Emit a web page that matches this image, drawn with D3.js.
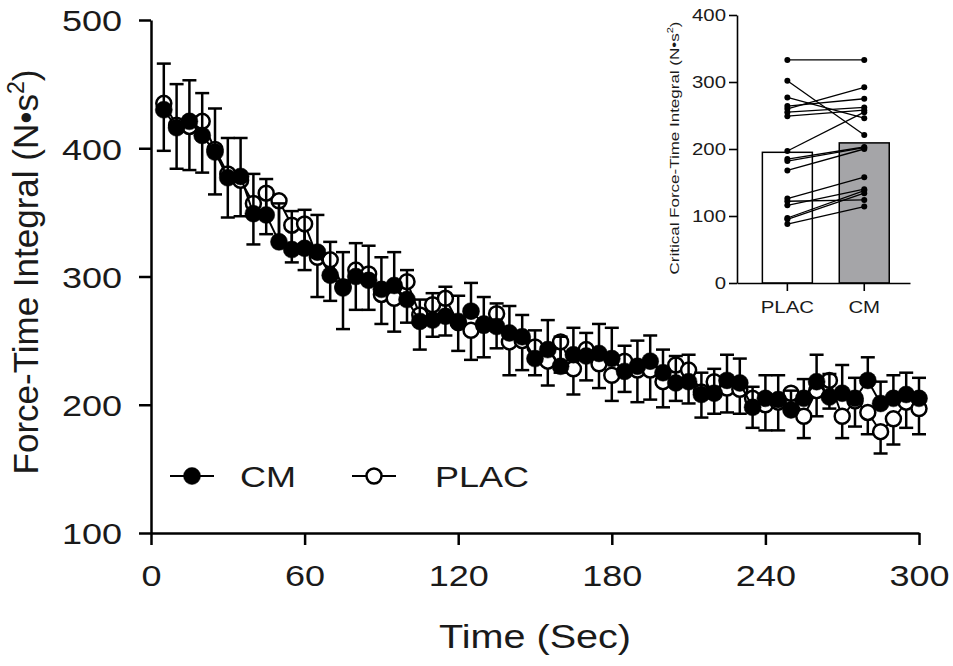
<!DOCTYPE html>
<html>
<head>
<meta charset="utf-8">
<script src="https://cdn.jsdelivr.net/npm/d3@7"></script>
<style>
  body { margin: 0; background: #fff; }
  svg { display: block; font-family: Arial, "Liberation Sans", sans-serif; }
</style>
</head>
<body>
<svg id="chart" width="953" height="666"></svg>
<script>
// time points (sec)
var times = [5, 10, 15, 20, 25, 30, 35, 40, 45, 50, 55, 60, 65, 70, 75, 80, 85, 90, 95, 100,
  105, 110, 115, 120, 125, 130, 135, 140, 145, 150, 155, 160, 165, 170, 175, 180, 185, 190, 195, 200,
  205, 210, 215, 220, 225, 230, 235, 240, 245, 250, 255, 260, 265, 270, 275, 280, 285, 290, 295, 300]

var cmMean = [430, 416, 421, 410, 397, 377, 378, 349, 348, 327, 321, 322, 319, 301, 291, 300, 297, 290, 293, 282,
  265, 266, 269, 265, 273, 263, 261, 256, 253, 236, 243, 230, 239, 238, 240, 236, 226, 230, 234, 225,
  217, 218, 208, 209, 219, 217, 198, 205, 204, 196, 205, 218, 206, 209, 205, 219, 201, 205, 208, 205]
var cmErr = [36, 34, 32, 33, 34, 31, 30, 31, 28, 30, 30, 30, 29, 26, 28, 26, 27, 25, 26, 23,
  17, 21, 23, 20, 22, 21, 18, 21, 17, 22, 23, 23, 21, 18, 23, 24, 20, 20, 20, 18,
  21, 21, 17, 19, 20, 19, 16, 18, 19, 15, 15, 21, 18, 22, 16, 18, 17, 18, 17, 16]

var placMean = [435, 418, 417, 421, 399, 380, 375, 357, 365, 359, 340, 341, 315, 313, 292, 305, 302, 286, 283, 296,
  270, 278, 283, 264, 258, 262, 271, 249, 250, 245, 234, 249, 228, 243, 232, 223, 234, 227, 227, 218,
  231, 227, 210, 218, 213, 212, 205, 200, 202, 209, 191, 211, 219, 191, 203, 194, 179, 189, 202, 197]
var placErr = [37, 34, 34, 40, 35, 34, 28, 32, 32, 30, 29, 36, 31, 32, 33, 31, 28, 23, 26, 32,
  27, 25, 29, 22, 23, 25, 27, 26, 23, 22, 19, 24, 20, 24, 19, 20, 24, 25, 23, 20,
  28, 26, 20, 25, 19, 19, 23, 20, 22, 16, 17, 20, 22, 17, 20, 17, 17, 20, 20, 20]

var yTicks = [100, 200, 300, 400, 500]
var xTicks = [0, 60, 120, 180, 240, 300]

// inset: individual critical force-time integral
var groups = ["PLAC", "CM"]
var indivPlac = [333, 302, 277, 264, 260, 255, 249, 197, 185, 182, 168, 126, 122, 116, 97, 95, 88]
var indivCm = [333, 221, 246, 275, 292, 262, 258, 255, 203, 202, 200, 158, 124, 140, 138, 134, 114]
var insetTicks = [0, 100, 200, 300, 400]

var stretch = 1.2   // text in the original is a bit wide
var svg = d3.select("#chart")

var xScale = d3.scaleLinear().domain([0, 300]).range([151, 919])
var yScale = d3.scaleLinear().domain([100, 500]).range([533, 20])

var xAxis = d3.axisBottom(xScale).tickValues(xTicks).tickSize(12).tickSizeOuter(0).tickPadding(20)
var yAxis = d3.axisLeft(yScale).tickValues(yTicks).tickSize(12).tickSizeOuter(0)

var gx = svg.append("g")
  .attr("class", "xAxis")
  .attr("transform", "translate(0," + 533 + ")")
  .call(xAxis)
var gy = svg.append("g")
  .attr("class", "yAxis")
  .attr("transform", "translate(" + 151 + ",0)")
  .call(yAxis)

svg.selectAll(".xAxis, .yAxis").selectAll("path, line")
  .attr("stroke", "#000").attr("stroke-width", 2.5)
svg.selectAll(".xAxis, .yAxis").selectAll("text")
  .attr("fill", "#1a1a1a").style("font-size", "30px").style("font-family", "Arial, 'Liberation Sans', sans-serif")
gx.selectAll("text").attr("dy", "0.71em").attr("transform", "scale(" + stretch + ",1)")
gy.selectAll("text").attr("x", -29 / stretch).attr("dy", "0.36em").attr("transform", "scale(" + stretch + ",1)")

// axis titles
svg.append("text")
  .attr("transform", "translate(" + 535 + "," + 648 + ") scale(" + stretch + ",1)")
  .attr("text-anchor", "middle")
  .attr("fill", "#1a1a1a")
  .style("font-size", "33px")
  .text("Time (Sec)")

var yTitle = svg.append("text")
  .attr("transform", "translate(" + 38 + "," + 272 + ") rotate(-90)")
  .attr("text-anchor", "middle")
  .attr("fill", "#1a1a1a")
  .style("font-size", "35px")
yTitle.append("tspan").text("Force-Time Integral (N\u2022s")
yTitle.append("tspan").attr("dy", -14).style("font-size", "23px").text("2")
yTitle.append("tspan").attr("dy", 14).text(")")

var line = d3.line()
  .x(function (d) { return xScale(d.t) })
  .y(function (d) { return yScale(d.v) })

function series(means, errs, dir) {
  return times.map(function (t, i) { return { t: t, v: means[i], e: errs[i] * dir } })
}

var placData = series(placMean, placErr, -1)
var cmData = series(cmMean, cmErr, 1)

function drawSeries(data, filled) {
  var g = svg.append("g")
  var bars = g.selectAll(".err").data(data).enter().append("g").attr("class", "err")
  bars.append("line")
    .attr("x1", function (d) { return xScale(d.t) })
    .attr("x2", function (d) { return xScale(d.t) })
    .attr("y1", function (d) { return yScale(d.v) })
    .attr("y2", function (d) { return yScale(d.v + d.e) })
    .attr("stroke", "#000").attr("stroke-width", 2.5)
  bars.append("line")
    .attr("x1", function (d) { return xScale(d.t) - 7 })
    .attr("x2", function (d) { return xScale(d.t) + 7 })
    .attr("y1", function (d) { return yScale(d.v + d.e) })
    .attr("y2", function (d) { return yScale(d.v + d.e) })
    .attr("stroke", "#000").attr("stroke-width", 2.5)
  g.append("path")
    .datum(data)
    .attr("d", line)
    .attr("fill", "none")
    .attr("stroke", "#000")
    .attr("stroke-width", 2)
  g.selectAll("circle").data(data).enter().append("circle")
    .attr("cx", function (d) { return xScale(d.t) })
    .attr("cy", function (d) { return yScale(d.v) })
    .attr("r", filled ? 8.5 : 7.5)
    .attr("fill", filled ? "#000" : "#fff")
    .attr("stroke", "#000")
    .attr("stroke-width", filled ? 0.5 : 2.5)
}

drawSeries(placData, false)
drawSeries(cmData, true)

// legend
var legendItems = [
  { name: "CM", filled: true, x: 170 },
  { name: "PLAC", filled: false, x: 352 }
]
var lg = svg.append("g").selectAll("g").data(legendItems).enter().append("g")
  .attr("transform", function (d) { return "translate(" + d.x + "," + 476 + ")" })
lg.append("line").attr("x1", 0).attr("x2", 44).attr("stroke", "#000").attr("stroke-width", 2)
lg.append("circle").attr("cx", 22).attr("r", function (d) { return d.filled ? 8.5 : 7.5 })
  .attr("fill", function (d) { return d.filled ? "#000" : "#fff" })
  .attr("stroke", "#000").attr("stroke-width", function (d) { return d.filled ? 0.5 : 2.5 })
lg.append("text")
  .attr("transform", function (d) { return "translate(" + (d.filled ? 70 : 83) + ",0) scale(" + stretch + ",1)" })
  .attr("dy", "0.36em")
  .attr("fill", "#1a1a1a")
  .style("font-size", "30px")
  .text(function (d) { return d.name })

// inset chart
var ix = d3.scaleBand().domain(groups).range([737, 910])
  .paddingInner(0.35).paddingOuter(0.3).align(0.55)
var iy = d3.scaleLinear().domain([0, 400]).range([283, 15])

var means = [d3.mean(indivPlac), d3.mean(indivCm)]

svg.append("g").selectAll("rect").data(groups).enter().append("rect")
  .attr("x", function (d) { return ix(d) })
  .attr("width", ix.bandwidth())
  .attr("y", function (d, i) { return iy(means[i]) })
  .attr("height", function (d, i) { return iy(0) - iy(means[i]) })
  .attr("fill", function (d) { return d == "CM" ? "#a5a5a8" : "#fff" })
  .attr("stroke", "#000").attr("stroke-width", 1.5)

var pairs = indivPlac.map(function (v, i) { return [v, indivCm[i]] })
var cx0 = ix("PLAC") + ix.bandwidth() / 2
var cx1 = ix("CM") + ix.bandwidth() / 2
var pg = svg.append("g")
pg.selectAll("line").data(pairs).enter().append("line")
  .attr("x1", cx0).attr("x2", cx1)
  .attr("y1", function (d) { return iy(d[0]) })
  .attr("y2", function (d) { return iy(d[1]) })
  .attr("stroke", "#000").attr("stroke-width", 1.3)
pg.selectAll(".dp").data(indivPlac).enter().append("circle").attr("class", "dp")
  .attr("cx", cx0).attr("cy", function (d) { return iy(d) }).attr("r", 3).attr("fill", "#000")
pg.selectAll(".dc").data(indivCm).enter().append("circle").attr("class", "dc")
  .attr("cx", cx1).attr("cy", function (d) { return iy(d) }).attr("r", 3).attr("fill", "#000")

var igx = svg.append("g")
  .attr("class", "ixAxis")
  .attr("transform", "translate(0," + 283 + ")")
  .call(d3.axisBottom(ix).tickSize(8).tickSizeOuter(0).tickPadding(10))
var igy = svg.append("g")
  .attr("class", "iyAxis")
  .attr("transform", "translate(" + 737 + ",0)")
  .call(d3.axisLeft(iy).tickValues(insetTicks).tickSize(8).tickSizeOuter(0))
svg.selectAll(".ixAxis, .iyAxis").selectAll("path, line")
  .attr("stroke", "#000").attr("stroke-width", 1.6)
svg.selectAll(".ixAxis, .iyAxis").selectAll("text")
  .attr("fill", "#1a1a1a").style("font-size", "17px").style("font-family", "Arial, 'Liberation Sans', sans-serif")
  .attr("transform", "scale(" + stretch + ",1)")
igy.selectAll("text").attr("x", -11 / stretch)

var iTitle = svg.append("text")
  .attr("transform", "translate(" + 679 + "," + 148 + ") scale(0.8,1) rotate(-90)")
  .attr("text-anchor", "middle")
  .attr("fill", "#1a1a1a")
  .style("font-size", "17px")
iTitle.append("tspan").text("Critical Force-Time Integral (N\u2022s")
iTitle.append("tspan").attr("dy", -7).style("font-size", "11px").text("2")
iTitle.append("tspan").attr("dy", 7).text(")")
</script>
</body>
</html>
